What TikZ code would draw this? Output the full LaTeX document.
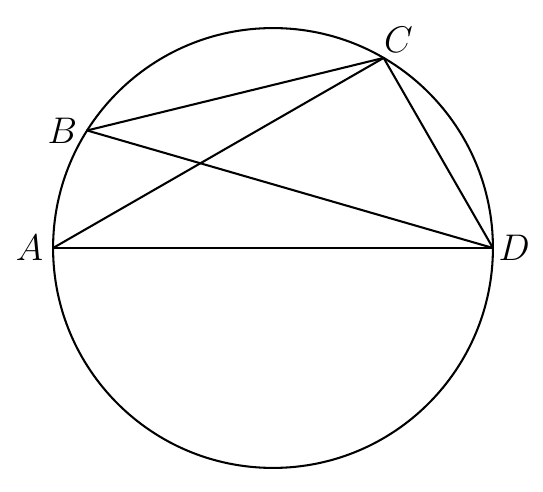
\documentclass[tikz,border=0pt]{standalone}
\usepackage{amsmath}
\usepackage{tkz-euclide}
\tikzset{lbl/.style={inner sep=0pt,font=\fontsize{15}{17}\selectfont}}
\begin{document}
\begin{tikzpicture}[scale=1]
\useasboundingbox (-3.724,-3.315) rectangle (3.683,3.383);
\tkzDefPoint(0,0){O}
\tkzDefPoint(-3,0){A}
\tkzDefPoint(3,0){D}
\tkzDefPoint(147.7:3){B}
\tkzDefPoint(59.8:3){C}
\tkzDrawCircle[line width=0.8pt,color=black](O,D)
\tkzDrawSegments[line width=0.8pt,color=black](A,D A,C B,C B,D C,D)
\tkzLabelPoint[lbl,left=0.13cm](A){$A$}
\tkzLabelPoint[lbl,left=0.13cm](B){$B$}
\tkzLabelPoint[lbl,above right=0.07cm and 0cm](C){$C$}
\tkzLabelPoint[lbl,right=0.07cm](D){$D$}
\end{tikzpicture}
\end{document}
